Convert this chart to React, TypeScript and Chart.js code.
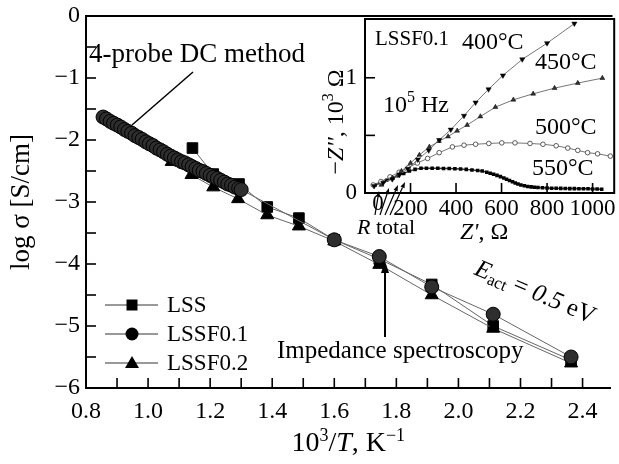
import React, { useEffect, useRef } from 'react';
import { Chart, registerables } from 'chart.js';

Chart.register(...registerables);

const SERIF = '"Liberation Serif", "Times New Roman", Times, serif';

// ---------- main chart: axes ----------
const xTickLabels = [0.8, 1.0, 1.2, 1.4, 1.6, 1.8, 2.0, 2.2, 2.4];
const xTickMarks = [0.9, 1.0, 1.1, 1.2, 1.3, 1.4, 1.5, 1.6, 1.7, 1.8, 1.9, 2.0, 2.1, 2.2, 2.3, 2.4];
const yTickLabels = [0, -1, -2, -3, -4, -5, -6];
const yTickMarks = [-0.5, -1, -1.5, -2, -2.5, -3, -3.5, -4, -4.5, -5, -5.5];

// ---------- main chart: series ----------
const lssX = [1.143, 1.21, 1.293, 1.384, 1.486, 1.6, 1.745, 1.914, 2.112, 2.363];
const lssY = [-2.13, -2.55, -2.71, -3.08, -3.26, -3.61, -3.92, -4.33, -5.0, -5.55];

const lssf01X = [
  0.855, 0.866, 0.878, 0.889, 0.901, 0.912, 0.924, 0.935, 0.947, 0.958,
  0.97, 0.981, 0.993, 1.004, 1.016, 1.027, 1.039, 1.05, 1.062, 1.073,
  1.085, 1.096, 1.108, 1.119, 1.131, 1.142, 1.154, 1.165, 1.177, 1.188,
  1.2, 1.211, 1.223, 1.234, 1.246, 1.257, 1.269, 1.28, 1.292, 1.3,
  1.6, 1.745, 1.914, 2.112, 2.363,
];
const lssf01Y = [
  -1.63, -1.66, -1.7, -1.73, -1.76, -1.79, -1.83, -1.86, -1.89, -1.93,
  -1.96, -1.99, -2.03, -2.06, -2.09, -2.13, -2.16, -2.19, -2.23, -2.26,
  -2.29, -2.32, -2.35, -2.37, -2.4, -2.43, -2.46, -2.49, -2.51, -2.54,
  -2.57, -2.6, -2.62, -2.65, -2.68, -2.71, -2.73, -2.76, -2.78, -2.8,
  -3.61, -3.88, -4.37, -4.81, -5.5,
];

const lssf02X = [1.076, 1.14, 1.21, 1.29, 1.384, 1.486, 1.6, 1.745, 1.914, 2.112, 2.363];
const lssf02Y = [-2.35, -2.56, -2.76, -2.95, -3.21, -3.39, -3.63, -4.01, -4.5, -5.04, -5.6];

const legendLabels = ['LSS', 'LSSF0.1', 'LSSF0.2'];

// ---------- inset: axes ----------
const insetXTickLabels = [200, 400, 600, 800, 1000];
const insetXTickMarks = [200, 400, 600, 800, 1000];
const insetYTickLabels = [0, 1];
const insetYTickMarks = [0.5, 1];

// ---------- inset: series (Z' in Ohm, -Z'' in 10^3 Ohm) ----------
const t400X = [40, 80, 120, 152, 188, 232, 280, 326, 377, 435, 486, 543, 606, 691, 800, 920];
const t400Y = [0.06, 0.09, 0.12, 0.16, 0.21, 0.29, 0.37, 0.46, 0.55, 0.67, 0.785, 0.9, 1.02, 1.16, 1.3, 1.47];

const t450X = [72, 120, 160, 200, 239, 283, 325, 365, 405, 449, 507, 573, 652, 739, 833, 935, 1043];
const t450Y = [0.07, 0.13, 0.19, 0.26, 0.33, 0.4, 0.45, 0.49, 0.54, 0.59, 0.664, 0.745, 0.809, 0.861, 0.91, 0.954, 0.997];

const t500X = [36, 70, 110, 150, 190, 230, 275, 326, 384, 435, 486, 544, 601, 659, 725, 782, 840, 891, 935, 978, 1022, 1078];
const t500Y = [0.07, 0.1, 0.14, 0.18, 0.22, 0.26, 0.3, 0.35, 0.4, 0.415, 0.423, 0.43, 0.435, 0.435, 0.43, 0.423, 0.41, 0.39, 0.37, 0.35, 0.34, 0.32];

const t550X = [
  45, 70, 95, 120, 145, 170, 195, 220, 246, 270, 295, 320, 345, 370, 395, 420, 445, 470, 495, 515,
  535, 550, 565, 580, 595, 610, 622, 635, 648, 660, 672, 685, 700, 715, 730, 745, 760, 780, 800, 820,
  840, 860, 880, 900, 920, 940, 960, 980, 1000, 1020, 1040,
];
const t550Y = [
  0.07, 0.09, 0.11, 0.13, 0.15, 0.17, 0.19, 0.205, 0.215, 0.215, 0.215, 0.214, 0.213, 0.212, 0.21, 0.208, 0.205, 0.2, 0.195, 0.19,
  0.18, 0.172, 0.163, 0.153, 0.142, 0.13, 0.12, 0.108, 0.097, 0.087, 0.078, 0.07, 0.063, 0.057, 0.053, 0.05, 0.048, 0.046, 0.044, 0.042,
  0.041, 0.04, 0.039, 0.038, 0.038, 0.037, 0.037, 0.036, 0.035, 0.034, 0.033,
];

const pts = (xs: number[], ys: number[]) => xs.map((x, i) => ({ x, y: ys[i] }));

type Part = { t: string; size: number; italic?: boolean; dy?: number };
const fontOf = (p: Part) => `${p.italic ? 'italic ' : ''}${p.size}px ${SERIF}`;

function drawParts(ctx: CanvasRenderingContext2D, parts: Part[], x: number, y: number, align: 'left' | 'center' | 'right' = 'left') {
  ctx.textAlign = 'left';
  ctx.textBaseline = 'middle';
  const widths = parts.map((p) => {
    ctx.font = fontOf(p);
    return ctx.measureText(p.t).width;
  });
  const total = widths.reduce((a, b) => a + b, 0);
  let cx = align === 'center' ? x - total / 2 : align === 'right' ? x - total : x;
  parts.forEach((p, i) => {
    ctx.font = fontOf(p);
    ctx.fillText(p.t, cx, y + (p.dy || 0));
    cx += widths[i];
  });
}

function seg(ctx: CanvasRenderingContext2D, x1: number, y1: number, x2: number, y2: number) {
  ctx.beginPath();
  ctx.moveTo(x1, y1);
  ctx.lineTo(x2, y2);
  ctx.stroke();
}

function arrow(ctx: CanvasRenderingContext2D, x1: number, y1: number, x2: number, y2: number, len: number, half: number) {
  const ang = Math.atan2(y2 - y1, x2 - x1);
  const bx = x2 - len * Math.cos(ang);
  const by = y2 - len * Math.sin(ang);
  seg(ctx, x1, y1, bx, by);
  ctx.beginPath();
  ctx.moveTo(x2, y2);
  ctx.lineTo(bx + half * Math.sin(ang), by - half * Math.cos(ang));
  ctx.lineTo(bx - half * Math.sin(ang), by + half * Math.cos(ang));
  ctx.closePath();
  ctx.fill();
}

const mainDeco = {
  id: 'mainDeco',
  afterDraw(chart: any) {
    const { ctx, chartArea: a } = chart;
    const xs = chart.scales.x;
    const ys = chart.scales.y;
    ctx.save();
    ctx.strokeStyle = '#000';
    ctx.fillStyle = '#000';
    ctx.lineWidth = 2;
    seg(ctx, a.left - 1, a.top, a.right + 2, a.top);
    ctx.lineWidth = 1.6;
    xTickMarks.forEach((v) => {
      const p = xs.getPixelForValue(v);
      seg(ctx, p, a.bottom, p, a.bottom - 10);
    });
    yTickMarks.forEach((v) => {
      const p = ys.getPixelForValue(v);
      seg(ctx, a.left, p, a.left + 10, p);
    });

    // axis titles
    ctx.save();
    ctx.translate(22, (a.top + a.bottom) / 2);
    ctx.rotate(-Math.PI / 2);
    drawParts(ctx, [{ t: 'log σ [S/cm]', size: 27 }], 0, 0, 'center');
    ctx.restore();
    drawParts(
      ctx,
      [
        { t: '10', size: 28 },
        { t: '3', size: 18, dy: -8 },
        { t: '/', size: 28 },
        { t: 'T', size: 28, italic: true },
        { t: ', K', size: 28 },
        { t: '−1', size: 18, dy: -8 },
      ],
      (a.left + a.right) / 2,
      444,
      'center'
    );

    // legend
    const rows = [305, 334, 363];
    legendLabels.forEach((lab, i) => {
      const yy = rows[i];
      ctx.strokeStyle = '#777';
      ctx.lineWidth = 1.3;
      seg(ctx, 105, yy, 158, yy);
      ctx.fillStyle = '#000';
      const cx = 132;
      ctx.beginPath();
      if (i === 0) {
        ctx.rect(cx - 5.5, yy - 5.5, 11, 11);
      } else if (i === 1) {
        ctx.arc(cx, yy, 6.5, 0, Math.PI * 2);
      } else {
        ctx.moveTo(cx, yy - 7);
        ctx.lineTo(cx - 7, yy + 5);
        ctx.lineTo(cx + 7, yy + 5);
        ctx.closePath();
      }
      ctx.fill();
      drawParts(ctx, [{ t: lab, size: 23 }], 167, yy + 1);
    });

    // annotations
    ctx.fillStyle = '#000';
    ctx.strokeStyle = '#000';
    drawParts(ctx, [{ t: '4-probe DC method', size: 27 }], 89, 55);
    ctx.lineWidth = 1.5;
    seg(ctx, 193, 72, 132, 125);

    drawParts(ctx, [{ t: 'Impedance spectroscopy', size: 25 }], 277, 351);
    ctx.lineWidth = 2;
    arrow(ctx, 385, 337, 385, 261, 12, 4);

    ctx.save();
    ctx.translate(535, 293);
    ctx.rotate((23 * Math.PI) / 180);
    drawParts(
      ctx,
      [
        { t: 'E', size: 25, italic: true },
        { t: 'act', size: 17, dy: 6 },
        { t: ' = ', size: 25 },
        { t: '0.5', size: 25, italic: true },
        { t: ' eV', size: 25 },
      ],
      0,
      0,
      'center'
    );
    ctx.restore();
    ctx.restore();
  },
};

const OX = 322; // inset canvas left offset on the page

const insetDeco = {
  id: 'insetDeco',
  afterDraw(chart: any) {
    const { ctx, chartArea: a } = chart;
    const xs = chart.scales.x;
    const ys = chart.scales.y;
    ctx.save();
    ctx.strokeStyle = '#000';
    ctx.fillStyle = '#000';
    ctx.lineWidth = 2;
    ctx.strokeRect(a.left, a.top, a.right - a.left, a.bottom - a.top);
    ctx.lineWidth = 1.6;
    insetXTickMarks.forEach((v) => {
      const p = xs.getPixelForValue(v);
      seg(ctx, p, a.bottom, p, a.bottom - 10);
    });
    insetYTickMarks.forEach((v) => {
      const p = ys.getPixelForValue(v);
      seg(ctx, a.left, p, a.left + 10, p);
    });
    // x "0" label, shifted right of the corner
    drawParts(ctx, [{ t: '0', size: 23 }], xs.getPixelForValue(0) + 13, a.bottom + 11, 'center');

    // y title
    ctx.save();
    ctx.translate(337 - OX, 122);
    ctx.rotate(-Math.PI / 2);
    drawParts(
      ctx,
      [
        { t: '−', size: 24 },
        { t: "Z''", size: 24, italic: true },
        { t: ', 10', size: 24 },
        { t: '3', size: 16, dy: -8 },
        { t: ' Ω', size: 24 },
      ],
      0,
      0,
      'center'
    );
    ctx.restore();

    drawParts(ctx, [{ t: "Z'", size: 24, italic: true }, { t: ', Ω', size: 24 }], 460 - OX, 233);
    drawParts(ctx, [{ t: 'R', size: 22, italic: true }, { t: ' total', size: 22 }], 357 - OX, 228);

    drawParts(ctx, [{ t: 'LSSF0.1', size: 21 }], 375 - OX, 39);
    drawParts(ctx, [{ t: '400°C', size: 24 }], 462 - OX, 43);
    drawParts(ctx, [{ t: '450°C', size: 24 }], 535 - OX, 63);
    drawParts(ctx, [{ t: '10', size: 24 }, { t: '5', size: 16, dy: -8 }, { t: ' Hz', size: 24 }], 383 - OX, 106);
    drawParts(ctx, [{ t: '500°C', size: 24 }], 535 - OX, 128);
    drawParts(ctx, [{ t: '550°C', size: 24 }], 532 - OX, 169);

    // R total arrows
    ctx.lineWidth = 1.2;
    const arr = [
      [375, 215, 379, 191],
      [380, 215, 389, 188],
      [385, 215, 398, 185],
      [390, 215, 405, 182],
    ];
    arr.forEach(([x1, y1, x2, y2]) => arrow(ctx, x1 - OX, y1, x2 - OX, y2, 6, 2.2));
    ctx.restore();
  },
};

export default function App() {
  const mainRef = useRef<HTMLCanvasElement>(null);
  const insetRef = useRef<HTMLCanvasElement>(null);

  useEffect(() => {
    document.body.style.margin = '0';
    const tickFont = { family: SERIF, size: 24 };

    const main = new Chart(mainRef.current as HTMLCanvasElement, {
      type: 'line',
      data: {
        datasets: [
          {
            label: 'LSSF0.1',
            data: pts(lssf01X, lssf01Y),
            borderColor: '#666',
            borderWidth: 1,
            pointStyle: 'circle',
            pointRadius: 7,
            pointBackgroundColor: '#2e2e2e',
            pointBorderColor: '#000',
            pointBorderWidth: 1,
            tension: 0,
          },
          {
            label: 'LSSF0.2',
            data: pts(lssf02X, lssf02Y),
            borderColor: '#666',
            borderWidth: 1,
            pointStyle: 'triangle',
            pointRadius: 7.5,
            pointBackgroundColor: '#000',
            pointBorderColor: '#000',
            pointBorderWidth: 1,
            tension: 0,
          },
          {
            label: 'LSS',
            data: pts(lssX, lssY),
            borderColor: '#666',
            borderWidth: 1,
            pointStyle: 'rect',
            pointRadius: 7.5,
            pointBackgroundColor: '#000',
            pointBorderColor: '#000',
            pointBorderWidth: 1,
            tension: 0,
          },
        ],
      },
      options: {
        responsive: false,
        animation: false,
        devicePixelRatio: 1,
        events: [],
        layout: { padding: { top: 16, right: 1, left: 0, bottom: 0 } },
        plugins: { legend: { display: false }, tooltip: { enabled: false } },
        scales: {
          x: {
            type: 'linear',
            min: 0.8,
            max: 2.49,
            afterBuildTicks: (s: any) => {
              s.ticks = xTickLabels.map((v) => ({ value: v }));
            },
            afterFit: (s: any) => {
              s.height = 76;
              s.paddingLeft = 0;
              s.paddingRight = 0;
            },
            grid: { display: false, drawTicks: false },
            border: { display: true, color: '#000', width: 2 },
            ticks: {
              font: tickFont,
              color: '#000',
              padding: 9,
              maxRotation: 0,
              autoSkip: false,
              callback: (v: any) => Number(v).toFixed(1),
            },
          },
          y: {
            type: 'linear',
            min: -6,
            max: 0,
            afterBuildTicks: (s: any) => {
              s.ticks = yTickLabels.map((v) => ({ value: v }));
            },
            afterFit: (s: any) => {
              s.width = 86;
              s.paddingTop = 0;
              s.paddingBottom = 0;
            },
            grid: { display: false, drawTicks: false },
            border: { display: true, color: '#000', width: 2 },
            ticks: {
              font: tickFont,
              color: '#000',
              padding: 6,
              autoSkip: false,
              callback: (v: any) => (Number(v) < 0 ? '\u2212' + Math.abs(Number(v)) : String(v)),
            },
          },
        },
      },
      plugins: [mainDeco],
    } as any);

    const inset = new Chart(insetRef.current as HTMLCanvasElement, {
      type: 'line',
      data: {
        datasets: [
          {
            label: '400',
            data: pts(t400X, t400Y),
            borderColor: '#666',
            borderWidth: 0.9,
            pointStyle: 'triangle',
            rotation: 180,
            pointRadius: 3,
            pointBackgroundColor: '#000',
            pointBorderColor: '#000',
            pointBorderWidth: 0.5,
            tension: 0,
          },
          {
            label: '450',
            data: pts(t450X, t450Y),
            borderColor: '#666',
            borderWidth: 0.9,
            pointStyle: 'triangle',
            pointRadius: 2.8,
            pointBackgroundColor: '#333',
            pointBorderColor: '#000',
            pointBorderWidth: 0.5,
            tension: 0,
          },
          {
            label: '500',
            data: pts(t500X, t500Y),
            borderColor: '#666',
            borderWidth: 0.9,
            pointStyle: 'circle',
            pointRadius: 2.3,
            pointBackgroundColor: '#fff',
            pointBorderColor: '#333',
            pointBorderWidth: 0.8,
            tension: 0,
          },
          {
            label: '550',
            data: pts(t550X, t550Y),
            borderColor: '#333',
            borderWidth: 1.5,
            pointStyle: 'rect',
            pointRadius: 2.5,
            pointBackgroundColor: '#000',
            pointBorderColor: '#000',
            pointBorderWidth: 0,
            tension: 0,
          },
        ],
      },
      options: {
        responsive: false,
        animation: false,
        devicePixelRatio: 1,
        events: [],
        layout: { padding: { top: 19, right: 2, left: 0, bottom: 0 } },
        plugins: { legend: { display: false }, tooltip: { enabled: false } },
        scales: {
          x: {
            type: 'linear',
            min: 0,
            max: 1095,
            afterBuildTicks: (s: any) => {
              s.ticks = insetXTickLabels.map((v) => ({ value: v }));
            },
            afterFit: (s: any) => {
              s.height = 57;
              s.paddingLeft = 0;
              s.paddingRight = 0;
            },
            grid: { display: false, drawTicks: false },
            border: { display: false },
            ticks: {
              font: { family: SERIF, size: 23 },
              color: '#000',
              padding: 2,
              maxRotation: 0,
              autoSkip: false,
              callback: (v: any) => String(v),
            },
          },
          y: {
            type: 'linear',
            min: 0,
            max: 1.51,
            afterBuildTicks: (s: any) => {
              s.ticks = insetYTickLabels.map((v) => ({ value: v }));
            },
            afterFit: (s: any) => {
              s.width = 43;
              s.paddingTop = 0;
              s.paddingBottom = 0;
            },
            grid: { display: false, drawTicks: false },
            border: { display: false },
            ticks: {
              font: { family: SERIF, size: 23 },
              color: '#000',
              padding: 8,
              autoSkip: false,
              callback: (v: any) => String(v),
            },
          },
        },
      },
      plugins: [insetDeco],
    } as any);

    return () => {
      main.destroy();
      inset.destroy();
    };
  }, []);

  return (
    <div style={{ position: 'relative', width: 619, height: 464, background: '#fff', overflow: 'hidden' }}>
      <canvas ref={mainRef} width={619} height={464} style={{ position: 'absolute', left: 0, top: 0, display: 'block' }} />
      <canvas ref={insetRef} width={297} height={250} style={{ position: 'absolute', left: OX, top: 0, display: 'block' }} />
    </div>
  );
}
